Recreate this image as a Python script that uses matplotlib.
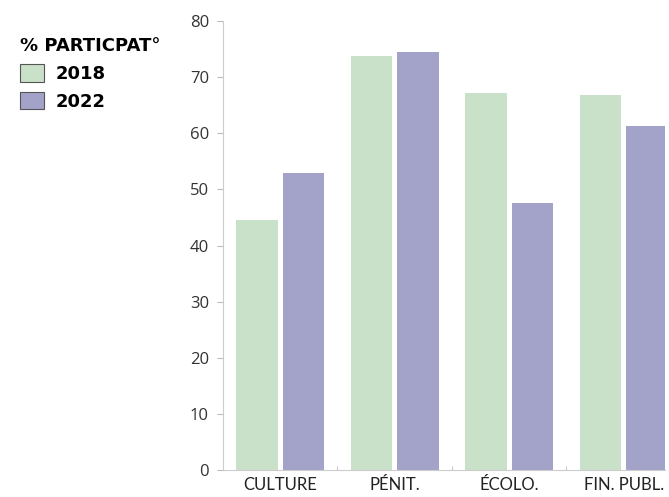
import matplotlib.pyplot as plt
import numpy as np
from matplotlib.patches import Patch

categories = ['CULTURE', 'PÉNIT.', 'ÉCOLO.', 'FIN. PUBL.']
v2018 = [44.6, 73.8, 67.2, 66.8]
v2022 = [53.0, 74.5, 47.5, 61.3]
years = ['2018', '2022']
yticks = [0, 10, 20, 30, 40, 50, 60, 70, 80]

c2018 = '#c9e0c9'
c2022 = '#a3a3c9'

fig = plt.figure(figsize=(6.69, 4.97), dpi=100)
ax = fig.add_axes([0.333, 0.054, 0.661, 0.904])

x = np.arange(len(categories))
w = 0.363
ax.bar(x - 0.203, v2018, w, color=c2018)
ax.bar(x + 0.203, v2022, w, color=c2022)

ax.set_xlim(-0.5, 3.36)
ax.set_ylim(0, 80)
ax.set_yticks(yticks)
ax.set_xticks(x)
ax.set_xticklabels(categories, fontsize=12, family='Lato', color='#222222')
ax.set_xticks([0.5, 1.5, 2.5], minor=True)
ax.tick_params(axis='x', which='major', length=0, pad=5)
ax.tick_params(axis='x', which='minor', length=3, direction='in', color='#bbbbbb')
ax.tick_params(axis='y', length=4, color='#bbbbbb', labelsize=12, labelcolor='#333333', pad=6)
for lab in ax.get_yticklabels():
    lab.set_family('Open Sans')

for s in ['top', 'right']:
    ax.spines[s].set_visible(False)
ax.spines['left'].set_color('#cccccc')
ax.spines['bottom'].set_color('#cccccc')

handles = [Patch(facecolor=c2018, edgecolor='#555555', linewidth=0.8),
           Patch(facecolor=c2022, edgecolor='#555555', linewidth=0.8)]
leg = fig.legend(handles, years, loc='upper left', bbox_to_anchor=(0.03, 0.925),
                 frameon=False, title='% PARTICPAT°', alignment='left',
                 prop={'weight': 'bold', 'size': 13}, handlelength=1.35,
                 handleheight=1.1, handletextpad=0.6, labelspacing=0.5,
                 borderaxespad=0, borderpad=0)
leg.get_title().set_fontweight('bold')
leg.get_title().set_fontsize(13)

fig.savefig('out.png', dpi=100)
